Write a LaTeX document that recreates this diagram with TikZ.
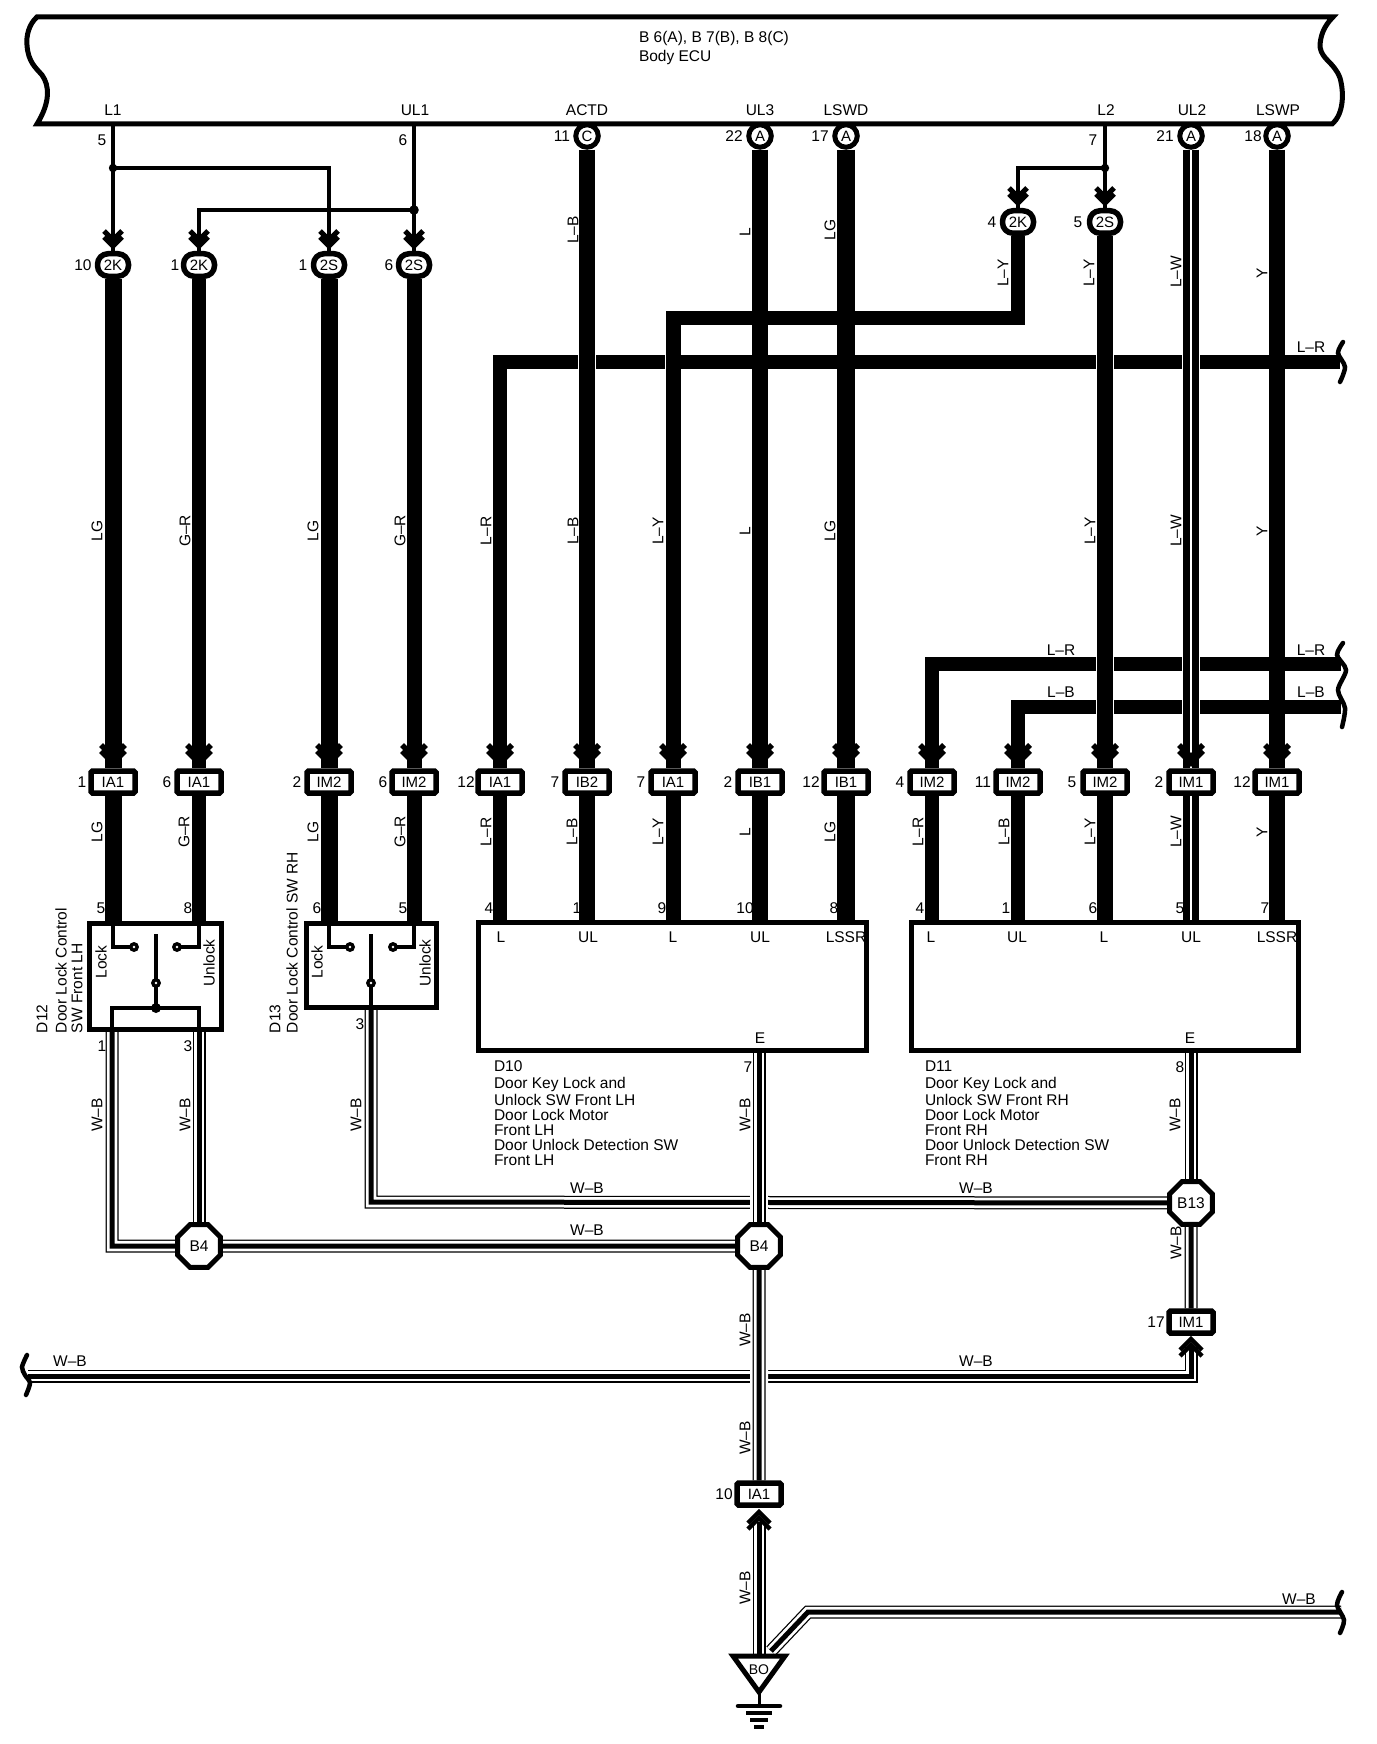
\documentclass[tikz,border=0pt]{standalone}
\usepackage{fontspec}
\setmainfont{Liberation Sans}
\usetikzlibrary{backgrounds,shapes.geometric}
\newcounter{lc}
\tikzset{
  txt/.style={inner sep=0pt,outer sep=0pt,font=\fontsize{15.5}{15.5}\selectfont},
  connbox/.style={draw,line width=5.5,fill=white,rectangle,rounded corners=1.5,minimum width=44,minimum height=22,inner sep=0pt,font=\fontsize{15}{15}\selectfont},
  ovalbox/.style={draw,line width=5.5,fill=white,rectangle,rounded corners=10.5,minimum width=31,minimum height=22.5,inner sep=0pt,font=\fontsize{15}{15}\selectfont},
  pinball/.style={draw,line width=5,fill=white,circle,minimum size=22.5,inner sep=0pt,font=\fontsize{15}{15}\selectfont},
  octa/.style={draw,line width=5,fill=white,regular polygon,regular polygon sides=8,minimum size=46.5,inner sep=0pt,font=\fontsize{15.5}{15.5}\selectfont},
  devbox/.style={draw,line width=5,rectangle,inner sep=0pt},
  wire/.style={line width=#1},
  hwire/.style={line width=#1,preaction={draw=white,line width=#1+1.6}},
  thinw/.style={line width=4},
  wb/.style={line width=13,draw=black,postaction={draw=white,line width=10.5},postaction={draw=black,line width=5}},
  wbh/.style={wb,preaction={draw=white,line width=18}},
  brk/.style={line width=4.5,line cap=round},
}
% text helpers
\newcommand\lab[3]{\stepcounter{lc}\node[txt] (t\arabic{lc}) at (#1,#2) {#3};}
\newcommand\rlab[3]{\stepcounter{lc}\node[txt,rotate=90] (t\arabic{lc}) at (#1,#2) {#3};}
\newcommand\llab[3]{\stepcounter{lc}\node[txt,anchor=west] (t\arabic{lc}) at (#1,#2) {#3};}
\newcommand\clab[3]{\stepcounter{lc}\node[txt,rotate=90,anchor=west] (t\arabic{lc}) at (#1,#2) {#3};}
% double chevron: x, tip y, half width, direction (1 down, -1 up), width
\newcommand\chev[5]{%
  \draw[line width=#5] ({#1-#3},{#2-#4*(#3+4)}) -- (#1,{#2-#4*4}) -- ({#1+#3},{#2-#4*(#3+4)});
  \draw[line width=#5] ({#1-#3},{#2-#4*(#3+10)}) -- (#1,{#2-#4*10}) -- ({#1+#3},{#2-#4*(#3+10)});
}
\newcommand\swdot[2]{\fill (#1,#2) circle (5); \fill[white] (#1,#2) circle (1.3);}
\begin{document}
\begin{tikzpicture}[x=1pt,y=-1pt,line join=miter]
\path[use as bounding box] (0,0) rectangle (1376,1744);
\begin{pgfonlayer}{background}
\fill[white] (0,0) rectangle (1376,1744);
\end{pgfonlayer}

% ---- ECU outline
\draw[line width=5] (37,17) .. controls (29,24) and (26,36) .. (27,45)
   .. controls (28,62) and (36,68) .. (42,75)
   .. controls (50,86) and (50,103) .. (37,124) -- (1332,124)
   .. controls (1344,114) and (1344,92) .. (1340,78)
   .. controls (1334,62) and (1322,60) .. (1320,47)
   .. controls (1320,36) and (1324,26) .. (1333,17) -- cycle;
\lab{113}{110}{L1} \lab{415}{110}{UL1} \lab{587}{110}{ACTD} \lab{760}{110}{UL3} \lab{846}{110}{LSWD}
\lab{1106}{110}{L2} \lab{1192}{110}{UL2} \lab{1278}{110}{LSWP}
\llab{639}{38}{B 6(A), B 7(B), B 8(C)}
\llab{639}{57}{Body ECU}

% ---- bus tap points and bends
\coordinate (pL1) at (113,124);
\coordinate (pUL1) at (414,124);
\coordinate (pL2) at (1105,124);
\coordinate (j1) at (113,168);
\coordinate (j1e) at (329,168);
\coordinate (j2) at (414,210);
\coordinate (j2e) at (199,210);
\coordinate (j3) at (1105,168);
\coordinate (j3e) at (1018,168);

% ---- top connectors
\node[pinball] (pC) at (587,136) {C};
\node[pinball] (pA1) at (760,136) {A};
\node[pinball] (pA2) at (846,136) {A};
\node[pinball] (pA3) at (1191,136) {A};
\node[pinball] (pA4) at (1277,136) {A};
\node[ovalbox] (o1) at (113,265) {2K};
\node[ovalbox] (o2) at (199,265) {2K};
\node[ovalbox] (o3) at (329,265) {2S};
\node[ovalbox] (o4) at (414,265) {2S};
\node[ovalbox] (o5) at (1018,222) {2K};
\node[ovalbox] (o6) at (1105,222) {2S};

% ---- middle connectors
\node[connbox] (c1) at (113,782) {IA1};
\node[connbox] (c2) at (199,782) {IA1};
\node[connbox] (c3) at (329,782) {IM2};
\node[connbox] (c4) at (414,782) {IM2};
\node[connbox] (c5) at (500,782) {IA1};
\node[connbox] (c6) at (587,782) {IB2};
\node[connbox] (c7) at (673,782) {IA1};
\node[connbox] (c8) at (760,782) {IB1};
\node[connbox] (c9) at (846,782) {IB1};
\node[connbox] (c10) at (932,782) {IM2};
\node[connbox] (c11) at (1018,782) {IM2};
\node[connbox] (c12) at (1105,782) {IM2};
\node[connbox] (c13) at (1191,782) {IM1};
\node[connbox] (c14) at (1277,782) {IM1};
\node[connbox] (c15) at (1191,1322) {IM1};
\node[connbox] (c16) at (759,1494) {IA1};

% ---- devices
\node[devbox,minimum width=132,minimum height=106] (d12) at (155.5,976) {};
\node[devbox,minimum width=130,minimum height=84] (d13) at (371,965) {};
\node[devbox,minimum width=388,minimum height=128] (d10) at (672.5,986) {};
\node[devbox,minimum width=387,minimum height=128] (d11) at (1104.5,986) {};

% ---- splices
\node[octa] (b4a) at (199,1246) {B4};
\node[octa] (b4b) at (759,1246) {B4};
\node[octa] (b13) at (1191,1203) {B13};

% ---- pin points on devices
\foreach \n/\x in {a/113,b/199,c/329,d/414}{\coordinate (s\n) at (\x,922);}
\foreach \n/\x in {a/500,b/587,c/673,d/760,e/846}{\coordinate (m\n) at (\x,922);}
\foreach \n/\x in {a/932,b/1018,c/1105,d/1191,e/1277}{\coordinate (r\n) at (\x,922);}

% ---- bends for the horizontal runs
\coordinate (lrA) at (500,362);
\coordinate (lrAe) at (1340,362);
\coordinate (lyA) at (1018,318);
\coordinate (lyB) at (673,318);
\coordinate (lrB) at (932,664);
\coordinate (lrBe) at (1341,664);
\coordinate (lbB) at (1018,707);
\coordinate (lbBe) at (1341,707);

% ---- W-B points
\coordinate (e10) at (759,1052);
\coordinate (e11) at (1191,1050);
\coordinate (g1) at (112,1030);
\coordinate (g1c) at (112,1246);
\coordinate (g3) at (199,1030);
\coordinate (g4) at (371,1008);
\coordinate (g4c) at (371,1202);
\coordinate (lng1) at (28,1376);
\coordinate (lng2) at (1191,1376);
\coordinate (lng3) at (1191,1345);
\coordinate (low1) at (759,1522);
\coordinate (low2) at (759,1655);
\coordinate (dg1) at (771,1651);
\coordinate (dg2) at (808,1612);
\coordinate (dg3) at (1341,1612);

\begin{pgfonlayer}{background}
% thin branches
\draw[thinw] (pL1) -- (o1);
\draw[thinw] (j1) -- (j1e) -- (o3);
\draw[thinw] (pUL1) -- (o4);
\draw[thinw] (j2) -- (j2e) -- (o2);
\draw[thinw] (pL2) -- (o6);
\draw[thinw] (j3) -- (j3e) -- (o5);
% horizontal thick runs first
\draw[wire=14.5] (c5) -- (lrA) -- (lrAe);
\draw[wire=14.5] (c10) -- (lrB) -- (lrBe);
\draw[wire=14] (c11) -- (lbB) -- (lbBe);
\draw[wire=13.5] (o5) -- (lyA) -- ([xshift=-7]lyB);
% verticals
\draw[wire=17] (o1) -- (c1);
\draw[wire=14] (o2) -- (c2);
\draw[wire=17] (o3) -- (c3);
\draw[wire=15] (o4) -- (c4);
\draw[hwire=16] (pC) -- (c6);
\draw[hwire=15] ([yshift=-6.75]lyB) -- (c7);
\draw[wire=16] (pA1) -- (c8);
\draw[wire=18] (pA2) -- (c9);
\draw[hwire=16] (o6) -- (c12);
\draw[hwire=16,postaction={draw=white,line width=1.4}] (pA3) -- (c13);
\draw[wire=16] (pA4) -- (c14);
% connector to device
\draw[wire=17] (c1) -- (sa);
\draw[wire=14] (c2) -- (sb);
\draw[wire=17] (c3) -- (sc);
\draw[wire=15] (c4) -- (sd);
\draw[wire=14] (c5) -- (ma);
\draw[wire=16] (c6) -- (mb);
\draw[wire=15] (c7) -- (mc);
\draw[wire=16] (c8) -- (md);
\draw[wire=18] (c9) -- (me);
\draw[wire=14] (c10) -- (ra);
\draw[wire=14] (c11) -- (rb);
\draw[wire=16] (c12) -- (rc);
\draw[wire=16,postaction={draw=white,line width=1.4}] (c13) -- (rd);
\draw[wire=16] (c14) -- (re);
% W-B network
\draw[wb] (g4) -- (g4c) -- (b13);
\draw[wb] (lng1) -- (lng2) -- (lng3);
\draw[wb] (g1) -- (g1c) -- (b4a);
\draw[wb] (g3) -- (b4a);
\draw[wb] (b4a) -- (b4b);
\draw[wbh] (e10) -- (b4b);
\draw[wbh] (b4b) -- (c16);
\draw[wb] (e11) -- (b13);
\draw[wb] (b13) -- (c15);
\draw[wb] (low1) -- (low2);
\draw[wb] (dg1) -- (dg2) -- (dg3);
\end{pgfonlayer}

% ---- junction dots
\fill (j1) circle (4.2); \fill (j2) circle (4.8); \fill (j3) circle (4.2);

% ---- arrowheads
\foreach \x in {113,199,329,414}{\chev{\x}{250}{9}{1}{5}}
\foreach \x in {1018,1105}{\chev{\x}{207}{9}{1}{5}}
\foreach \x in {113,199,329,414,500,587,673,760,846,932,1018,1105,1191,1277}{\chev{\x}{767}{12}{1}{5.5}}
\chev{1191}{1335}{11}{-1}{4.5}
\chev{759}{1508}{11}{-1}{4.5}

% ---- switch D12
\draw[thinw] (sa) -- (113,947) -- (134,947);
\draw[thinw] (sb) -- (199,947) -- (177,947);
\draw[thinw] (156,934) -- (156,1008);
\draw[thinw] (112,1030) -- (112,1008) -- (199,1008) -- (199,1030);
\swdot{134}{947} \swdot{177}{947} \swdot{156}{983}
\fill (156,1008) circle (5);
\rlab{101}{962}{Lock} \rlab{209}{963}{Unlock}
% ---- switch D13
\draw[thinw] (sc) -- (329,947) -- (350,947);
\draw[thinw] (sd) -- (414,947) -- (393,947);
\draw[thinw] (371,934) -- (371,1008);
\swdot{350}{947} \swdot{393}{947} \swdot{371}{983}
\rlab{317}{962}{Lock} \rlab{425}{963}{Unlock}

% ---- captions
\clab{42}{1033}{D12} \clab{61}{1033}{Door Lock Control} \clab{77}{1033}{SW Front LH}
\clab{275}{1033}{D13} \clab{292}{1033}{Door Lock Control SW RH}
\llab{494}{1066}{D10}
\foreach \t/\y in {Door Key Lock and/1084,Unlock SW Front LH/1100,Door Lock Motor/1115,Front LH/1130,Door Unlock Detection SW/1145,Front LH/1160}{\llab{494}{\y}{\t}}
\llab{925}{1066}{D11}
\foreach \t/\y in {Door Key Lock and/1084,Unlock SW Front RH/1100,Door Lock Motor/1115,Front RH/1130,Door Unlock Detection SW/1145,Front RH/1160}{\llab{925}{\y}{\t}}

% ---- device pin names
\lab{501}{937}{L} \lab{588}{937}{UL} \lab{673}{937}{L} \lab{760}{937}{UL} \lab{846}{937}{LSSR}
\lab{931}{937}{L} \lab{1017}{937}{UL} \lab{1104}{937}{L} \lab{1191}{937}{UL} \lab{1277}{937}{LSSR}
\lab{760}{1038}{E} \lab{1190}{1038}{E}

% ---- pin numbers
\lab{102}{140}{5} \lab{403}{140}{6} \lab{1093}{140}{7}
\lab{562}{136}{11} \lab{734}{136}{22} \lab{820}{136}{17} \lab{1165}{136}{21} \lab{1253}{136}{18}
\lab{83}{265}{10} \lab{175}{265}{1} \lab{303}{265}{1} \lab{389}{265}{6} \lab{992}{222}{4} \lab{1078}{222}{5}
\foreach \x/\t in {82/1,167/6,297/2,383/6,466/12,555/7,641/7,728/2,811/12,900/4,983/11,1072/5,1159/2,1242/12}{\lab{\x}{782}{\t}}
\foreach \x/\t in {101/5,188/8,317/6,403/5,489/4,577/1,662/9,745/10,834/8,920/4,1006/1,1093/6,1180/5,1265/7}{\lab{\x}{908}{\t}}
\lab{102}{1046}{1} \lab{188}{1046}{3} \lab{360}{1024}{3} \lab{748}{1067}{7} \lab{1180}{1067}{8}
\lab{1156}{1322}{17} \lab{724}{1494}{10}

% ---- wire colour labels, upper
\rlab{573}{230}{L–B} \rlab{745}{232}{L} \rlab{830}{230}{LG}
\rlab{1003}{273}{L–Y} \rlab{1089}{273}{L–Y} \rlab{1176}{272}{L–W} \rlab{1262}{273}{Y}
% middle
\foreach \x/\t in {97/LG,185/G–R,313/LG,400/G–R,486/L–R,573/L–B,658/L–Y,745/L,830/LG,1090/L–Y,1176/L–W,1262/Y}{\rlab{\x}{531}{\t}}
% lower
\foreach \x/\t in {97/LG,184/G–R,313/LG,400/G–R,486/L–R,572/L–B,658/L–Y,745/L,830/LG,918/L–R,1004/L–B,1090/L–Y,1176/L–W,1262/Y}{\rlab{\x}{832}{\t}}
% horizontal
\lab{1311}{347}{L–R} \lab{1061}{650}{L–R} \lab{1311}{650}{L–R} \lab{1061}{692}{L–B} \lab{1311}{692}{L–B}
% W-B
\rlab{97}{1115}{W–B} \rlab{185}{1115}{W–B} \rlab{356}{1115}{W–B} \rlab{745}{1115}{W–B} \rlab{1175}{1115}{W–B}
\rlab{1176}{1243}{W–B} \rlab{745}{1330}{W–B} \rlab{745}{1438}{W–B} \rlab{745}{1588}{W–B}
\lab{587}{1188}{W–B} \lab{976}{1188}{W–B} \lab{587}{1230}{W–B} \lab{70}{1361}{W–B} \lab{976}{1361}{W–B} \lab{1299}{1599}{W–B}

% ---- wire breaks
\draw[brk] plot[smooth] coordinates {(27,1355) (22,1367) (25,1375) (30,1383) (26,1395)};
\draw[brk] plot[smooth] coordinates {(1343,342) (1338,353) (1345,367) (1340,382)};
\draw[brk] plot[smooth] coordinates {(1343,643) (1337,655) (1346,670) (1338,690) (1345,708) (1342,727)};
\draw[brk] plot[smooth] coordinates {(1342,1592) (1337,1605) (1344,1620) (1340,1633)};

% ---- ground
\draw[line width=5,fill=white] (733,1656) -- (785,1656) -- (759,1692) -- cycle;
\node[txt,font=\fontsize{14}{14}\selectfont] (bo) at (759,1670) {BO};
\draw[line width=3] (759,1692) -- (759,1706);
\draw[line width=4.5,line cap=round] (738,1706) -- (780,1706);
\draw[line width=4] (746,1713) -- (772,1713);
\draw[line width=3.5] (750,1720) -- (768,1720);
\draw[line width=3.5] (754,1727) -- (764,1727);
\end{tikzpicture}
\end{document}
